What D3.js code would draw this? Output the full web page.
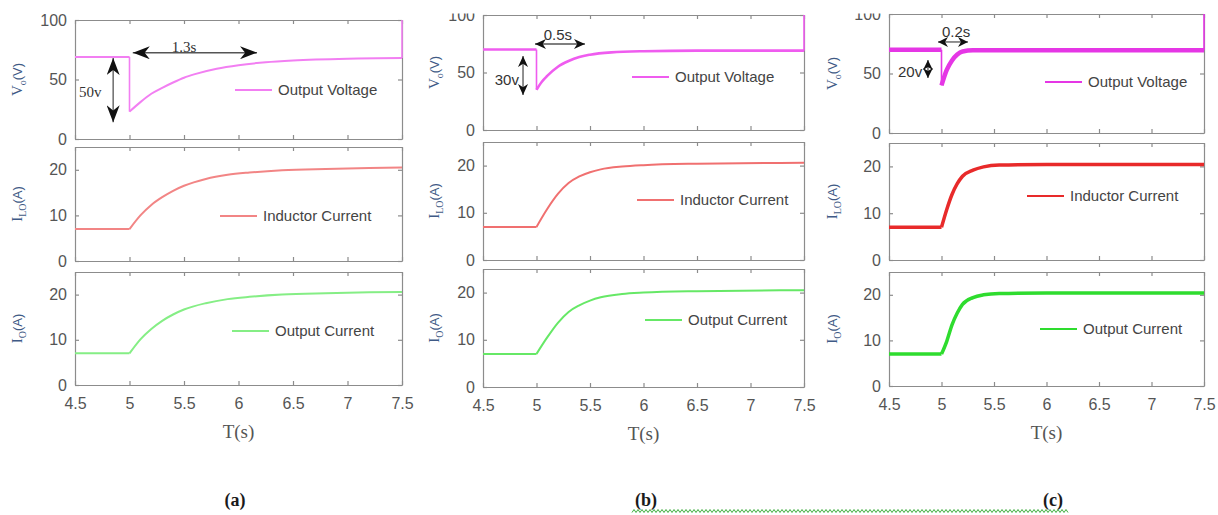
<!DOCTYPE html>
<html>
<head>
<meta charset="utf-8">
<script src="https://cdn.jsdelivr.net/npm/d3@7"></script>
<style>
  body { margin: 0; background: #fff; }
  svg { display: block; font-family: "Liberation Sans", Arial, sans-serif; }
  .tick text { fill: #555; font-size: 16px; }
  .domain, .tick line { stroke: #8c8c8c; stroke-width: 1.2; }
  .legend { fill: #444; font-size: 15px; }
  .ylab { fill: #3f5a86; font-family: "Liberation Serif", serif; font-size: 15px; }
  .xlab { fill: #555; font-family: "Liberation Serif", serif; font-size: 19px; }
  .note { fill: #333; font-size: 15px; }
</style>
</head>
<body>
<svg id="chart" width="1218" height="515"></svg>
<script>
const timeTicks = [4.5, 5, 5.5, 6, 6.5, 7, 7.5];
const voltTicks = [0, 50, 100];
const currTicks = [0, 10, 20];
const panelNames = ['(a)', '(b)', '(c)'];
const legendNames = ['Output Voltage', 'Inductor Current', 'Output Current'];
const noteTexts = [['1.3s', '50v'], ['0.5s', '30v'], ['0.2s', '20v']];

// [time s, value]
const voltA = [[4.5, 69], [5, 69], [5, 23], [5.1, 31], [5.2, 38], [5.3, 43], [5.4, 47.5], [5.5, 51.5], [5.6, 54.5], [5.8, 59], [6, 62], [6.25, 64.5], [6.5, 66], [7, 67.5], [7.5, 68], [7.5, 100]];
const indA = [[4.5, 7], [5, 7], [5.1, 10], [5.2, 12.3], [5.3, 14], [5.4, 15.4], [5.5, 16.5], [5.7, 18], [5.9, 18.9], [6.1, 19.4], [6.4, 19.9], [6.8, 20.2], [7.2, 20.4], [7.5, 20.5]];
const outA = [[4.5, 7], [5, 7], [5.1, 10.1], [5.2, 12.4], [5.3, 14.2], [5.4, 15.6], [5.5, 16.7], [5.7, 18.1], [5.9, 19], [6.1, 19.5], [6.4, 20], [6.8, 20.3], [7.2, 20.5], [7.5, 20.6]];

const voltB = [[4.5, 70], [5, 70], [5, 35], [5.05, 42], [5.1, 47], [5.2, 55], [5.3, 60], [5.4, 63.5], [5.5, 65.5], [5.7, 67.5], [6, 68.5], [6.5, 69], [7.5, 69], [7.5, 100]];
const indB = [[4.5, 7], [5, 7], [5.1, 10.8], [5.2, 14], [5.3, 16.3], [5.4, 17.7], [5.5, 18.6], [5.6, 19.2], [5.8, 19.8], [6, 20.1], [6.5, 20.4], [7.5, 20.6]];
const outB = [[4.5, 7], [5, 7], [5.1, 10.5], [5.2, 13.6], [5.3, 15.9], [5.4, 17.3], [5.5, 18.3], [5.6, 19], [5.8, 19.7], [6, 20], [6.5, 20.3], [7.5, 20.5]];

const voltC = [[4.5, 70], [5, 70], [5, 40], [5.05, 53], [5.1, 61], [5.15, 66], [5.2, 68.5], [5.3, 69.5], [7.5, 69.5], [7.5, 100]];
const indC = [[4.5, 7], [5, 7], [5.05, 10.8], [5.1, 14], [5.15, 16.3], [5.2, 17.9], [5.3, 19.2], [5.4, 19.9], [5.55, 20.3], [6, 20.4], [7.5, 20.4]];
const outC = [[4.5, 7], [5, 7], [5.05, 9.8], [5.1, 13.4], [5.15, 16], [5.2, 17.9], [5.3, 19.4], [5.4, 20], [5.55, 20.3], [6, 20.4], [7.5, 20.4]];

// annotation arrows in data units: [t1, t2, v] horizontal, [t, v1, v2] vertical
const spanA = { h: [5.03, 6.17, 72.5], v: [4.85, 68, 14], hText: [5.5, 73.5], vText: [4.537, 35] };
const spanB = { h: [4.986, 5.453, 74.8], v: [4.874, 64.3, 30.4], hText: [5.2, 78], vText: [4.61, 39] };
const spanC = { h: [4.967, 5.252, 76.5], v: [4.871, 61.3, 46.2], hText: [5.14, 81], vText: [4.586, 47] };

const panels = [
  { series: [voltA, indA, outA], span: spanA, x0: 75, x1: 402, rows: [[20, 139], [147, 261], [272, 385]],
    legends: [[235, 90], [220, 216], [232, 331]], ylabX: 22, nameX: 235,
    colors: ['#f27ff2', '#f28585', '#85ee85'], widths: [2, 2, 2], head: [17, 13], noteFont: 'Liberation Serif' },
  { series: [voltB, indB, outB], span: spanB, x0: 483, x1: 804, rows: [[15, 130], [142, 260], [269, 387]],
    legends: [[632, 77], [637, 200], [645, 320]], ylabX: 439, nameX: 646,
    colors: ['#ef5cef', '#f07070', '#66e866'], widths: [2.6, 2, 2], head: [11, 10], noteFont: 'Liberation Sans' },
  { series: [voltC, indC, outC], span: spanC, x0: 889, x1: 1204, rows: [[14, 133], [143, 260], [272, 386]],
    legends: [[1045, 82], [1027, 196], [1040, 329]], ylabX: 837, nameX: 1053,
    colors: ['#e536e5', '#e82a2a', '#2edc2e'], widths: [4.5, 3.5, 3.5], head: [10, 10], noteFont: 'Liberation Sans' }
];

const yLabels = [['V', 'o', '(V)'], ['I', 'LO', '(A)'], ['I', 'O', '(A)']];

const svg = d3.select('#chart');
const defs = svg.append('defs');

panels.forEach((p, i) => {
  const [len, wid] = p.head;
  defs.append('marker').attr('id', 'head' + i)
    .attr('viewBox', `0 0 ${len} ${wid}`).attr('refX', len).attr('refY', wid / 2)
    .attr('markerWidth', len).attr('markerHeight', wid).attr('markerUnits', 'userSpaceOnUse')
    .attr('orient', 'auto-start-reverse')
    .append('path').attr('d', `M0,0L${len},${wid / 2}L0,${wid}L${len * 0.3},${wid / 2}Z`).attr('fill', '#111');
});

function drawSeries(g, x, y, pts, color, width) {
  // runs of rising time are smoothed; vertical steps and the flat-to-rise corner stay sharp
  const runs = [[pts[0]]];
  for (let i = 1; i < pts.length; i++) {
    const cur = runs[runs.length - 1];
    if (pts[i][0] === pts[i - 1][0]) {
      runs.push([pts[i]]);
    } else if (i > 1 && pts[i - 1][1] === pts[i - 2][1] && pts[i][1] !== pts[i - 1][1] && cur.length > 1) {
      runs.push([pts[i - 1], pts[i]]);
    } else {
      cur.push(pts[i]);
    }
  }
  const smooth = d3.line().x(d => x(d[0])).y(d => y(d[1])).curve(d3.curveMonotoneX);
  runs.forEach((run, i) => {
    if (i > 0) {
      const prev = runs[i - 1][runs[i - 1].length - 1];
      if (prev !== run[0]) {
        g.append('line').attr('x1', x(prev[0])).attr('y1', y(prev[1])).attr('x2', x(run[0][0])).attr('y2', y(run[0][1]))
          .attr('stroke', color).attr('stroke-width', 1.6);
      }
    }
    if (run.length > 1) {
      g.append('path').attr('d', smooth(run)).attr('fill', 'none').attr('stroke', color)
        .attr('stroke-width', width).attr('stroke-linejoin', 'round');
    }
  });
}

panels.forEach((p, pi) => {
  const x = d3.scaleLinear().domain([4.5, 7.5]).range([p.x0, p.x1]);
  p.rows.forEach(([top, bottom], ri) => {
    const y = d3.scaleLinear().domain(ri === 0 ? [0, 100] : [0, 25]).range([bottom, top]);
    const ticks = ri === 0 ? voltTicks : currTicks;
    const g = svg.append('g');
    const last = ri === 2;

    g.append('g').attr('transform', `translate(0,${bottom})`)
      .call(d3.axisBottom(x).tickValues(timeTicks).tickSize(-4).tickSizeOuter(0).tickPadding(13).tickFormat(last ? d => d : ''));
    g.append('g').attr('transform', `translate(0,${top})`)
      .call(d3.axisTop(x).tickValues(timeTicks).tickSize(-4).tickSizeOuter(0).tickFormat(''));
    g.append('g').attr('transform', `translate(${p.x0},0)`)
      .call(d3.axisLeft(y).tickValues(ticks).tickSize(-4).tickSizeOuter(0).tickPadding(8));
    g.append('g').attr('transform', `translate(${p.x1},0)`)
      .call(d3.axisRight(y).tickValues(ticks).tickSize(-4).tickSizeOuter(0).tickFormat(''));

    drawSeries(g, x, y, p.series[ri], p.colors[ri], p.widths[ri]);

    // legend
    const [lx, ly] = p.legends[ri];
    g.append('line').attr('x1', lx).attr('x2', lx + 37).attr('y1', ly).attr('y2', ly)
      .attr('stroke', p.colors[ri]).attr('stroke-width', 2);
    g.append('text').attr('class', 'legend').attr('x', lx + 43).attr('y', ly + 5).text(legendNames[ri]);

    // y label
    const lab = yLabels[ri];
    const t = g.append('text').attr('class', 'ylab')
      .attr('transform', `translate(${p.ylabX},${(top + bottom) / 2}) rotate(-90)`).attr('text-anchor', 'middle');
    t.append('tspan').text(lab[0]);
    t.append('tspan').attr('dy', 4).attr('font-size', 10).text(lab[1]);
    t.append('tspan').attr('dy', -4).attr('font-family', 'Liberation Sans').attr('font-size', 13).text(lab[2]);

    if (ri === 0) {
      const s = p.span;
      const arrow = (x1, y1, x2, y2) => g.append('line').attr('x1', x1).attr('y1', y1).attr('x2', x2).attr('y2', y2)
        .attr('stroke', '#555').attr('stroke-width', 1.3)
        .attr('marker-start', `url(#head${pi})`).attr('marker-end', `url(#head${pi})`);
      arrow(x(s.h[0]), y(s.h[2]), x(s.h[1]), y(s.h[2]));
      arrow(x(s.v[0]), y(s.v[1]), x(s.v[0]), y(s.v[2]));
      g.append('text').attr('class', 'note').attr('font-family', p.noteFont).attr('text-anchor', 'middle')
        .attr('x', x(s.hText[0])).attr('y', y(s.hText[1])).text(noteTexts[pi][0]);
      g.append('text').attr('class', 'note').attr('font-family', p.noteFont)
        .attr('x', x(s.vText[0])).attr('y', y(s.vText[1])).text(noteTexts[pi][1]);
    }

    if (last) {
      g.append('text').attr('class', 'xlab').attr('text-anchor', 'middle')
        .attr('x', (p.x0 + p.x1) / 2).attr('y', bottom + 53).text('T(s)');
    }
  });

  svg.append('text').attr('x', p.nameX).attr('y', 506).attr('text-anchor', 'middle')
    .attr('font-family', 'Liberation Serif').attr('font-size', 18).attr('font-weight', 'bold')
    .attr('fill', '#1a1a1a').text(panelNames[pi]);
});

// the source picture is cropped across the top of (b) and (c)
svg.append('rect').attr('x', 410).attr('y', 0).attr('width', 808).attr('height', 13.5).attr('fill', '#fff');

// green proofing squiggle under "(b) ... (c)"
const sq = d3.range(panels[1].nameX - 14, panels[2].nameX + 16, 2);
svg.append('path')
  .attr('d', d3.line().x(d => d).y((d, i) => 511 + (i % 2 ? -1.5 : 1.5))(sq))
  .attr('fill', 'none').attr('stroke', '#3fae3f').attr('stroke-width', 1);
</script>
</body>
</html>
